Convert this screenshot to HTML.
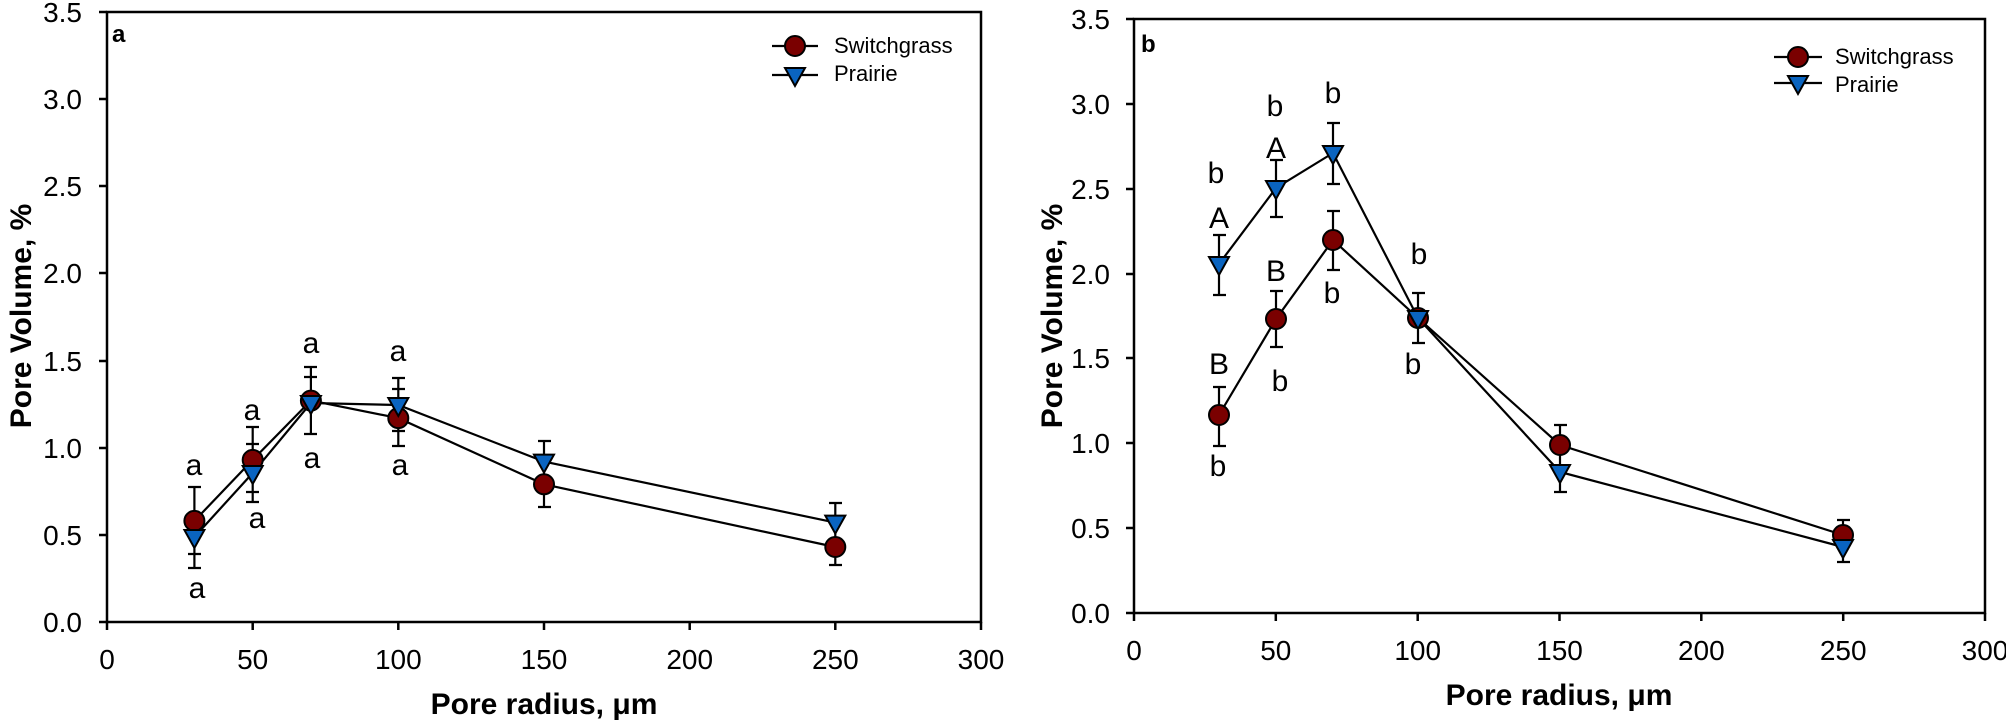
<!DOCTYPE html>
<html><head><meta charset="utf-8"><style>
html,body{margin:0;padding:0;background:#fff;}
svg{display:block;font-family:"Liberation Sans",Arial,sans-serif;}
</style></head><body>
<svg width="2006" height="728" viewBox="0 0 2006 728" xmlns="http://www.w3.org/2000/svg">
<g stroke="#000" stroke-width="2.5" fill="none">
<rect x="107" y="12" width="874" height="610"/>
<path d="M99 12H107M99 99H107M99 186H107M99 273H107M99 361H107M99 448H107M99 535H107M99 622H107"/>
<path d="M107 622V630M252.7 622V630M398.3 622V630M544 622V630M689.7 622V630M835.3 622V630M981 622V630"/>
<rect x="1134" y="19" width="851" height="594"/>
<path d="M1126 19H1134M1126 104H1134M1126 189H1134M1126 274H1134M1126 358H1134M1126 443H1134M1126 528H1134M1126 613H1134"/>
<path d="M1134 613V621M1275.8 613V621M1417.7 613V621M1559.5 613V621M1701.3 613V621M1843.2 613V621M1985 613V621"/>
</g>
<g font-size="28" text-anchor="end" fill="#000">
<text x="82" y="22">3.5</text><text x="82" y="109">3.0</text><text x="82" y="196">2.5</text><text x="82" y="283">2.0</text><text x="82" y="371">1.5</text><text x="82" y="458">1.0</text><text x="82" y="545">0.5</text><text x="82" y="632">0.0</text>
<text x="1110" y="29">3.5</text><text x="1110" y="114">3.0</text><text x="1110" y="199">2.5</text><text x="1110" y="284">2.0</text><text x="1110" y="368">1.5</text><text x="1110" y="453">1.0</text><text x="1110" y="538">0.5</text><text x="1110" y="623">0.0</text>
</g>
<g font-size="28" text-anchor="middle" fill="#000">
<text x="107" y="669">0</text><text x="252.7" y="669">50</text><text x="398.3" y="669">100</text><text x="544" y="669">150</text><text x="689.7" y="669">200</text><text x="835.3" y="669">250</text><text x="981" y="669">300</text>
<text x="1134" y="660">0</text><text x="1275.8" y="660">50</text><text x="1417.7" y="660">100</text><text x="1559.5" y="660">150</text><text x="1701.3" y="660">200</text><text x="1843.2" y="660">250</text><text x="1985" y="660">300</text>
</g>
<g font-size="30" font-weight="bold" text-anchor="middle" fill="#000">
<text x="544" y="714">Pore radius, μm</text>
<text x="1559" y="705">Pore radius, μm</text>
<text transform="translate(31,316) rotate(-90)">Pore Volume, %</text>
<text transform="translate(1062,316) rotate(-90)">Pore Volume, %</text>
</g>
<g font-size="24" font-weight="bold" fill="#000">
<text x="112" y="42">a</text>
<text x="1141" y="52">b</text>
</g>
<g stroke="#000" stroke-width="2.2" fill="none">
<polyline points="194.4,520.9 252.7,459.9 310.9,400.6 398.3,418.1 544,484.3 835.3,547"/>
<polyline points="194.4,537 252.7,473 310.9,403 398.3,405 544,461.6 835.3,522.6"/>
<path d="M194.4 487V568M188 487H201M188 554H201M188 568H201M188 517H201"/>
<path d="M252.7 427V502M246 427H259M246 444H259M246 492H259M246 502H259"/>
<path d="M310.9 367V434M304 367H317M304 377H317M304 434H317"/>
<path d="M398.3 378V446M392 378H405M392 389H405M392 431H405M392 446H405"/>
<path d="M544 441V507M538 441H551M538 507H551M538 462H551"/>
<path d="M835.3 503V565M829 503H842M829 565H842"/>
<path d="M1219 235V295M1213 235H1226M1213 295H1226"/>
<path d="M1219 387V446M1213 387H1226M1213 446H1226"/>
<path d="M1276 160V217M1270 160H1283M1270 217H1283"/>
<path d="M1276 291V347M1270 291H1283M1270 347H1283"/>
<path d="M1333 123V184M1327 123H1340M1327 184H1340"/>
<path d="M1333 211V270M1327 211H1340M1327 270H1340"/>
<path d="M1418 293V343M1412 293H1425M1412 343H1425"/>
<path d="M1560 425V492M1554 425H1567M1554 451H1567M1554 492H1567"/>
<path d="M1843 520V562M1837 520H1850M1837 562H1850"/>
<polyline points="1219,415 1276,319 1333,240 1418,318 1560,445 1843,535"/>
<polyline points="1219,264 1276,188 1333,153 1418,318 1560,472 1843,547"/>
<path d="M772 46H818M772 75H818M1774 57H1822M1774 83H1822"/>
</g>
<g fill="#7a0000" stroke="#000" stroke-width="2">
<circle cx="194.4" cy="520.9" r="10"/><circle cx="252.7" cy="459.9" r="10"/><circle cx="310.9" cy="400.6" r="10"/><circle cx="398.3" cy="418.1" r="10"/><circle cx="544" cy="484.3" r="10"/><circle cx="835.3" cy="547" r="10"/>
<circle cx="1219" cy="415" r="10"/><circle cx="1276" cy="319" r="10"/><circle cx="1333" cy="240" r="10"/><circle cx="1418" cy="318" r="10"/><circle cx="1560" cy="445" r="10"/><circle cx="1843" cy="535" r="10"/>
<circle cx="795" cy="46" r="10"/><circle cx="1798" cy="57" r="10"/>
</g>
<g fill="#0a64c0" stroke="#000" stroke-width="2">
<path d="M-10 -7H10L0 11Z" transform="translate(194.4,537)"/>
<path d="M-10 -7H10L0 11Z" transform="translate(252.7,473)"/>
<path d="M-10 -7H10L0 11Z" transform="translate(310.9,403)"/>
<path d="M-10 -7H10L0 11Z" transform="translate(398.3,405)"/>
<path d="M-10 -7H10L0 11Z" transform="translate(544,461.6)"/>
<path d="M-10 -7H10L0 11Z" transform="translate(835.3,522.6)"/>
<path d="M-10 -7H10L0 11Z" transform="translate(1219,264)"/>
<path d="M-10 -7H10L0 11Z" transform="translate(1276,188)"/>
<path d="M-10 -7H10L0 11Z" transform="translate(1333,153)"/>
<path d="M-10 -7H10L0 11Z" transform="translate(1418,318)"/>
<path d="M-10 -7H10L0 11Z" transform="translate(1560,472)"/>
<path d="M-10 -7H10L0 11Z" transform="translate(1843,547)"/>
<path d="M-10 -7H10L0 11Z" transform="translate(795,75)"/>
<path d="M-10 -7H10L0 11Z" transform="translate(1798,83)"/>
</g>
<g font-size="22" fill="#000">
<text x="834" y="53">Switchgrass</text><text x="834" y="81">Prairie</text>
<text x="1835" y="64">Switchgrass</text><text x="1835" y="92">Prairie</text>
</g>
<g font-size="30" text-anchor="middle" fill="#000">
<text x="194" y="475">a</text><text x="197" y="598">a</text>
<text x="252" y="420">a</text><text x="257" y="528">a</text>
<text x="311" y="353">a</text><text x="312" y="468">a</text>
<text x="398" y="361">a</text><text x="400" y="475">a</text>
<text x="1216" y="183">b</text><text x="1219" y="228">A</text><text x="1219" y="374">B</text><text x="1218" y="476">b</text>
<text x="1275" y="116">b</text><text x="1276" y="158">A</text><text x="1276" y="281">B</text><text x="1280" y="391">b</text>
<text x="1333" y="103">b</text><text x="1332" y="303">b</text>
<text x="1419" y="264">b</text><text x="1413" y="374">b</text>
</g>
</svg>
</body></html>
